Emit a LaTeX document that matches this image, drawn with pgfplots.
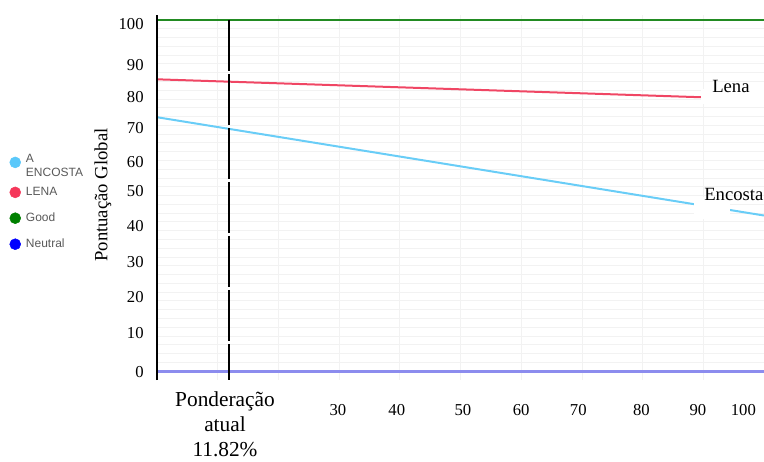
\documentclass[border=0pt]{standalone}
\usepackage{pgfplots}
\pgfplotsset{compat=1.18}
\usepackage{fontspec}
\setmainfont{Liberation Serif}
\newfontfamily\legfont{Liberation Sans}
\definecolor{encline}{RGB}{105,205,247}
\definecolor{lenaline}{RGB}{240,70,100}
\definecolor{goodline}{RGB}{34,139,34}
\definecolor{neutralline}{RGB}{140,140,238}
\definecolor{legA}{RGB}{90,200,250}
\definecolor{legL}{RGB}{245,55,90}
\definecolor{legG}{RGB}{0,128,0}
\definecolor{legN}{RGB}{0,0,255}
\begin{document}
\begin{tikzpicture}
\begin{axis}[
  at={(0,0)}, anchor=south west,
  scale only axis, width=455.25pt, height=273.75pt,
  xmin=0, xmax=100, ymin=-2.56, ymax=101.42,
  axis line style={draw=none},
  major tick length=0pt, minor tick length=0pt,
  xtick={29.8,39.5,50.4,60,69.4,79.8,89.1,96.6},
  xticklabels={30,40,50,60,70,80,90,100},
  ytick={-0.3,10.8,21.1,31.1,41.3,51.4,59.4,69.2,78.1,87.2,98.9},
  yticklabels={0,10,20,30,40,50,60,70,80,90,100},
  minor xtick={10,20,...,90},
  minor ytick={2.5,5,...,100},
  xminorgrids=true, yminorgrids=true,
  minor grid style={color=black!5, line width=0.6pt},
  /pgf/number format/assume math mode=true,
  ticklabel style={font=\fontsize{12.5}{15}\selectfont},
  xticklabel style={anchor=base, yshift=-26.25pt},
  yticklabel style={anchor=east, xshift=-6.5pt},
  legend cell align=left,
  legend style={at={(-0.243,0.624)}, anchor=north west, draw=none, fill=none,
    inner sep=0pt, outer sep=0pt, row sep=10.5pt, column sep=3.25pt,
    nodes={inner sep=0.5pt, text=black!65},
    font=\legfont\fontsize{9}{10.5}\selectfont},
]
\addplot[goodline, line width=1.5pt, forget plot] coordinates {(0,100) (100,100)};
\addplot[neutralline, line width=2.25pt, forget plot] coordinates {(0,0) (100,0)};
\addplot[lenaline, line width=1.5pt, forget plot] coordinates {(0,83.1) (100,77.4)};
\addplot[encline, line width=1.5pt, forget plot] coordinates {(0,72.3) (100,44.3)};
\addplot[black, line width=1.4pt, dash pattern=on 38pt off 2.5pt, forget plot] coordinates {(11.82,100) (11.82,-2.56)};
\addlegendimage{legend image code/.code={\fill[legA] (4.1pt,0pt) circle (4.1pt);}}
\addlegendentry{\begin{tabular}[c]{@{}l@{}}A\\ENCOSTA\end{tabular}}
\addlegendimage{legend image code/.code={\fill[legL] (4.1pt,0pt) circle (4.1pt);}}
\addlegendentry{LENA}
\addlegendimage{legend image code/.code={\fill[legG] (4.1pt,0pt) circle (4.1pt);}}
\addlegendentry{Good}
\addlegendimage{legend image code/.code={\fill[legN] (4.1pt,0pt) circle (4.1pt);}}
\addlegendentry{Neutral}
\end{axis}
\draw[black, line width=1.1pt] (0,0) -- (0,273.75pt);
\fill[white] (408pt,207pt) rectangle (460pt,218pt);
\node[anchor=base west, inner sep=0pt, font=\fontsize{14}{16}\selectfont] at (416.25pt,215.25pt) {Lena};
\fill[white] (402.75pt,121pt) rectangle (429.75pt,137pt);
\node[anchor=base west, inner sep=0pt, font=\fontsize{14}{16}\selectfont] at (410.25pt,135pt) {Encosta};
\node[anchor=base, inner sep=0pt, font=\fontsize{16}{19}\selectfont] at (51pt,-19.5pt) {Ponderação};
\node[anchor=base, inner sep=0pt, font=\fontsize{16}{19}\selectfont] at (51pt,-38.5pt) {atual};
\node[anchor=base, inner sep=0pt, font=\fontsize{16}{19}\selectfont] at (51pt,-57.5pt) {11.82\%};
\node[rotate=90, inner sep=0pt, font=\fontsize{14}{16}\selectfont] at (-40.5pt,138.75pt) {Pontuação Global};
\pgfresetboundingbox
\useasboundingbox (-117.75pt,-60.75pt) rectangle (455.25pt,285pt);
\end{tikzpicture}
\end{document}
